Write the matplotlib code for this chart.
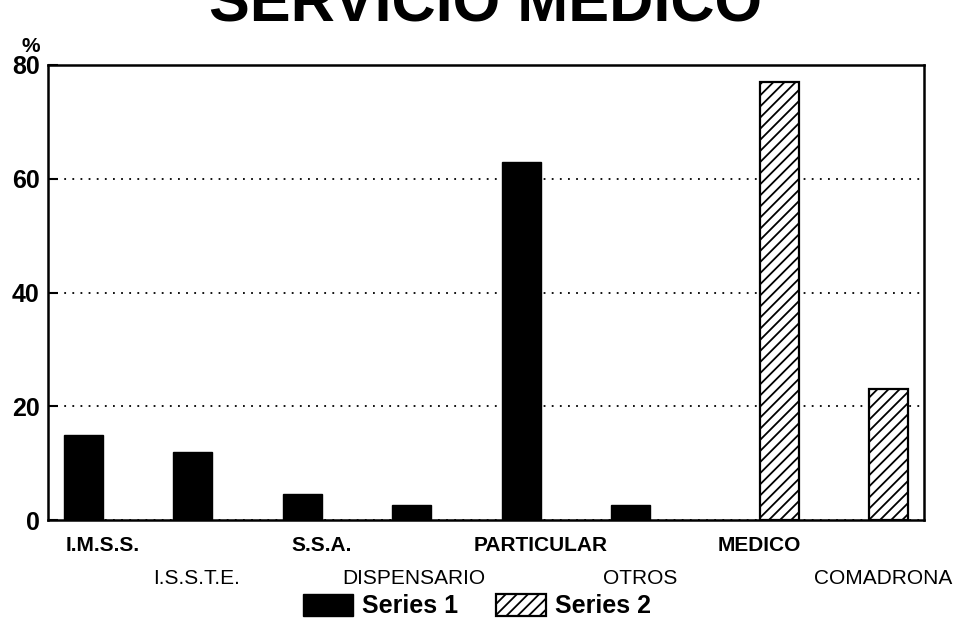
import matplotlib
matplotlib.use("Agg")
import matplotlib.pyplot as plt
import numpy as np

categories = ["I.M.S.S.", "I.S.S.T.E.", "S.S.A.", "DISPENSARIO",
              "PARTICULAR", "OTROS", "MEDICO", "COMADRONA"]
series1 = [15.0, 12.0, 4.6, 2.7, 63.0, 2.7, 0.0, 0.0]
series2 = [0.0, 0.0, 0.0, 0.0, 0.0, 0.0, 77.0, 23.0]
series_names = ["Series 1", "Series 2"]
yticks = [0, 20, 40, 60, 80]
title = "SERVICIO MEDICO"
ylabel = "%"

plt.rcParams['font.family'] = ['Liberation Sans', 'DejaVu Sans']
plt.rcParams['hatch.linewidth'] = 1.3
plt.rcParams['hatch.color'] = 'black'

fig = plt.figure(figsize=(9.62, 6.27), dpi=100)
ax = fig.add_axes([48/962, 1-520/627, (924-48)/962, (520-65)/627])

x = np.arange(len(categories))
w = 0.356
s1 = np.array(series1)
s2 = np.array(series2)
m1 = s1 > 0
m2 = s2 > 0
b1 = ax.bar(x[m1] - w/2, s1[m1], w, color='black', edgecolor='black',
            linewidth=1.0, label=series_names[0], zorder=3)
b2 = ax.bar(x[m2] + w/2, s2[m2], w, color='white', edgecolor='black',
            hatch='///', linewidth=1.6, label=series_names[1], zorder=3)

ax.set_xlim(-0.5, len(categories) - 0.5)
ax.set_ylim(0, 80)
ax.set_yticks(yticks)
ax.set_yticklabels([str(v) for v in yticks], fontsize=18, fontweight='bold')
ax.tick_params(axis='y', direction='in', length=7, width=1.5, pad=6)
ax.set_xticks(x)
ax.set_xticklabels([])
ax.tick_params(axis='x', length=0)
ax.yaxis.grid(True, linestyle=(0, (1, 3.5)), color='black', linewidth=1.3)
ax.set_axisbelow(True)
for sp in ax.spines.values():
    sp.set_linewidth(1.8)
    sp.set_color('black')

# two-row category labels
row_dx = [0, -16, 0, -17, 0, -10, 0, 14]
for i, lab in enumerate(categories):
    if i % 2 == 0:
        ax.annotate(lab, xy=(x[i], 0), xycoords=('data', 'axes fraction'),
                    xytext=(row_dx[i] * 0.72, -11.5), textcoords='offset points',
                    ha='center', va='top', fontsize=15, fontweight='bold')
    else:
        ax.annotate(lab, xy=(x[i], 0), xycoords=('data', 'axes fraction'),
                    xytext=(row_dx[i] * 0.72, -35.5), textcoords='offset points',
                    ha='center', va='top', fontsize=15)

fig.text(486/962, 1-22/627, title, ha='center', va='baseline',
         fontsize=44, fontweight='bold')
fig.text(22/962, 1-52/627, ylabel, ha='left', va='baseline',
         fontsize=15, fontweight='bold')

fig.legend(handles=[b1, b2], labels=series_names, loc='center',
           bbox_to_anchor=(477/962, 1-606/627), ncol=2, frameon=False,
           prop={'size': 18, 'weight': 'bold'}, handlelength=2.0,
           handleheight=1.0, handletextpad=0.35, columnspacing=1.5)

fig.savefig("out.png", dpi=100)
